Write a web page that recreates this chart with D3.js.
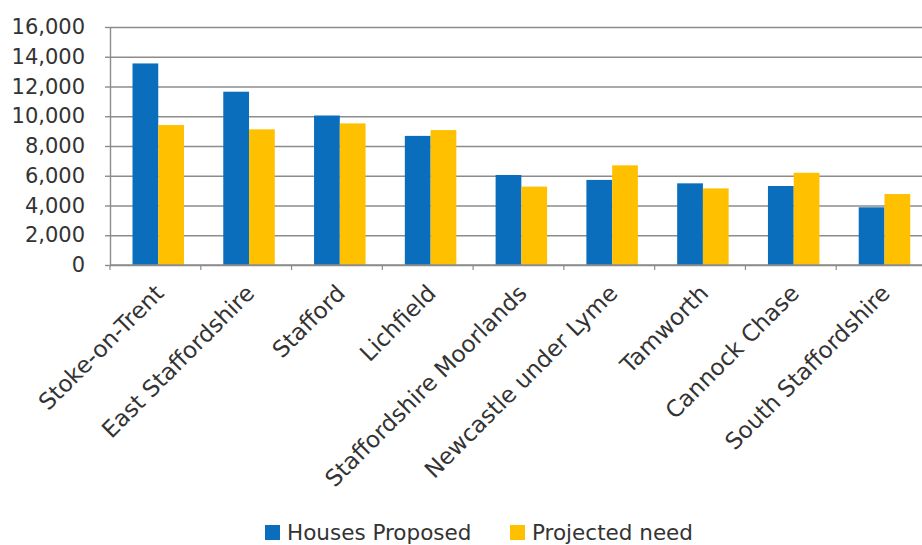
<!DOCTYPE html>
<html>
<head>
<meta charset="utf-8">
<script src="https://cdn.jsdelivr.net/npm/d3@7"></script>
<style>
	html, body { margin: 0; padding: 0; background: #fff; }
	svg text { font-family: "DejaVu Sans", sans-serif; fill: #333; }
</style>
</head>
<body>
<div id="chart"></div>
<script>
// chart values
var categories = ["Stoke-on-Trent", "East Staffordshire", "Stafford", "Lichfield",
	"Staffordshire Moorlands", "Newcastle under Lyme", "Tamworth", "Cannock Chase",
	"South Staffordshire"];
var housesProposed = [13550, 11650, 10050, 8680, 6050, 5720, 5490, 5310, 3880];
var projectedNeed = [9410, 9120, 9520, 9070, 5270, 6700, 5150, 6200, 4770];
var yTicks = [0, 2000, 4000, 6000, 8000, 10000, 12000, 14000, 16000];
var seriesNames = ["Houses Proposed", "Projected need"];

var WIDTH = 922, HEIGHT = 545;
var COLOURS = ["#0a6ebd", "#ffc000"];
var GRID = "#8c8c8c";

var svg = d3.select('#chart').append('svg')
	.attr('width', WIDTH).attr('height', HEIGHT);

// plot area (the right edge runs past the window, as in the reference)
var plotLeft = 110, plotRight = 927, plotTop = 27, plotBottom = 265;

var x = d3.scaleBand().domain(categories).range([plotLeft, plotRight]).padding(0);
var inner = d3.scaleBand().domain([0, 1]).range([22.5, 74]).padding(0);
var y = d3.scaleLinear().domain([0, 16000]).range([plotBottom, plotTop]);

// grid lines
let grid = svg.append('g').attr('transform', 'translate(' + plotLeft + ',0)')
	.call(d3.axisLeft(y).tickValues(yTicks).tickFormat("")
		.tickSize(-(plotRight - plotLeft)).tickSizeOuter(0));
grid.selectAll('path').remove();
grid.selectAll('.tick line').attr('stroke', GRID).attr('stroke-width', 1.4);

// y axis: labels and small ticks
let yAxis = svg.append('g').attr('transform', 'translate(' + plotLeft + ',0)')
	.call(d3.axisLeft(y).tickValues(yTicks).tickFormat(d3.format(","))
		.tickSize(5).tickPadding(20).tickSizeOuter(0));
yAxis.select('path').attr('stroke', GRID).attr('stroke-width', 1.4);
yAxis.selectAll('.tick line').attr('stroke', GRID).attr('stroke-width', 1.4);
yAxis.selectAll('text').attr('font-size', 21).style('font-family', '"DejaVu Sans", sans-serif')
	.attr('fill', '#333');

// bars
let groups = svg.append('g').selectAll('g').data(categories).join('g')
	.attr('transform', d => 'translate(' + x(d) + ',0)');
groups.selectAll('rect')
	.data((d, i) => [housesProposed[i], projectedNeed[i]])
	.join('rect')
	.attr('x', (v, j) => inner(j))
	.attr('width', inner.bandwidth())
	.attr('y', v => y(v))
	.attr('height', v => plotBottom - y(v))
	.attr('fill', (v, j) => COLOURS[j]);

// x axis line with ticks between categories
let xAxis = svg.append('g');
xAxis.append('line').attr('x1', plotLeft).attr('x2', plotRight)
	.attr('y1', plotBottom).attr('y2', plotBottom)
	.attr('stroke', GRID).attr('stroke-width', 1.4);
let edges = categories.map(d => x(d)).concat([x(categories[categories.length - 1]) + x.bandwidth()]);
xAxis.selectAll('line.tk').data(edges).join('line').attr('class', 'tk')
	.attr('x1', d => d).attr('x2', d => d)
	.attr('y1', plotBottom).attr('y2', plotBottom + 5)
	.attr('stroke', GRID).attr('stroke-width', 1.2);

// rotated category labels
xAxis.selectAll('text').data(categories).join('text')
	.attr('transform', d => 'translate(' + (x(d) + x.bandwidth() / 2 + 4) + ',' + (plotBottom + 24) + ') rotate(-45)')
	.attr('text-anchor', 'end')
	.attr('dy', '0.35em')
	.attr('font-size', 23)
	.text(d => d);

// legend
let legend = svg.append('g');
let legendX = [265, 510];
seriesNames.forEach(function(name, i) {
	legend.append('rect').attr('x', legendX[i]).attr('y', 525)
		.attr('width', 15).attr('height', 15).attr('fill', COLOURS[i]);
	legend.append('text').attr('x', legendX[i] + 22).attr('y', 540)
		.attr('font-size', 21.5).text(name);
});
</script>
</body>
</html>
